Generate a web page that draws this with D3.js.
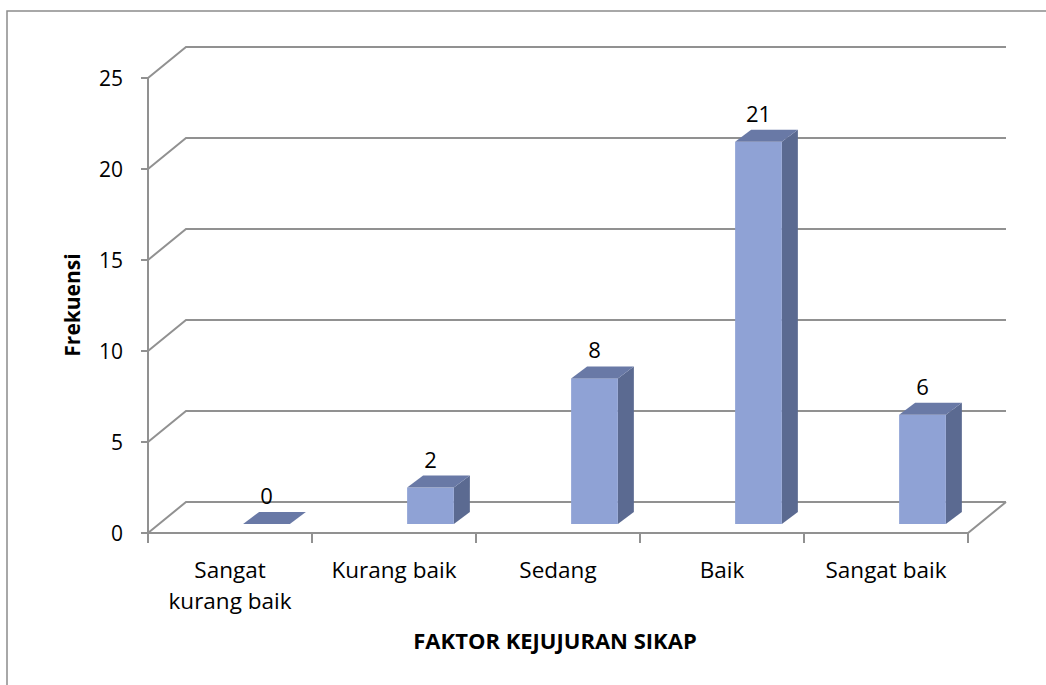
<!DOCTYPE html>
<html>
<head>
<meta charset="utf-8">
<script src="https://cdn.jsdelivr.net/npm/d3@7"></script>
<style>
  body { margin: 0; background: #fff; }
  text { font-family: "Open Sans", "Noto Sans", sans-serif; fill: #000; }
</style>
</head>
<body>
<script>
// data
var categories = ['Sangat kurang baik', 'Kurang baik', 'Sedang', 'Baik', 'Sangat baik'];
var labelLines = [['Sangat', 'kurang baik'], ['Kurang baik'], ['Sedang'], ['Baik'], ['Sangat baik']];
var values = [0, 2, 8, 21, 6];
var yTicks = [0, 5, 10, 15, 20, 25];

var width = 1046, height = 685;
var wallDx = 38, wallDy = -31;     // depth of the walls / floor
var barF = {dx: 11, dy: -9};       // bar front inside the depth
var barB = {dx: 27, dy: -21};      // bar back inside the depth

var svg = d3.select('body').append('svg')
    .attr('width', width)
    .attr('height', height);

// chart border
svg.append('rect')
    .attr('x', 7).attr('y', 11)
    .attr('width', 1100).attr('height', 700)
    .attr('fill', 'none')
    .attr('stroke', '#8c8c8c')
    .attr('stroke-width', 1.5);

var x = d3.scaleBand().domain(categories).range([148, 968]);
var y = d3.scaleLinear().domain([0, 25]).range([533, 78]);

var grid = svg.append('g')
    .attr('fill', 'none')
    .attr('stroke', '#919191')
    .attr('stroke-width', 2);

// gridlines with side wall part
grid.selectAll('.grid')
    .data(yTicks)
    .enter()
    .append('path')
    .attr('d', function(t) {
        var y0 = y(t);
        return 'M148,' + y0 + 'L' + (148 + wallDx) + ',' + (y0 + wallDy)
            + 'L' + (968 + wallDx) + ',' + (y0 + wallDy);
    });

// floor front and right edge
grid.append('path')
    .attr('d', 'M148,' + y(0) + 'L968,' + y(0) + 'L' + (968 + wallDx) + ',' + (y(0) + wallDy));

// front y axis
grid.append('line')
    .attr('x1', 148).attr('x2', 148)
    .attr('y1', y(25)).attr('y2', y(0));

// y ticks
grid.selectAll('.ytick')
    .data(yTicks)
    .enter()
    .append('line')
    .attr('x1', 141).attr('x2', 148)
    .attr('y1', function(t) { return y(t); })
    .attr('y2', function(t) { return y(t); });

// x ticks
var xBounds = categories.map(function(c) { return x(c); }).concat([968]);
grid.selectAll('.xtick')
    .data(xBounds)
    .enter()
    .append('line')
    .attr('x1', function(d) { return d; }).attr('x2', function(d) { return d; })
    .attr('y1', y(0)).attr('y2', y(0) + 10);

// y tick labels
svg.selectAll('.ylabel')
    .data(yTicks)
    .enter()
    .append('text')
    .attr('x', 123)
    .attr('y', function(t) { return y(t) + 8; })
    .attr('text-anchor', 'end')
    .style('font-size', '21px')
    .text(function(t) { return t; });

// bars
var bw = x.bandwidth() * 0.285;
var bars = svg.selectAll('.bar')
    .data(values)
    .enter()
    .append('g')
    .attr('class', 'bar');

function bx(i) { return x(categories[i]) + x.bandwidth() * 0.58; }
function by(v) { return y(v) + barF.dy; }
var ddx = barB.dx - barF.dx, ddy = barB.dy - barF.dy;

bars.append('path') // side
    .attr('fill', '#5b6a91')
    .attr('d', function(v, i) {
        var x1 = bx(i) + bw, yt = by(v), yb = by(0);
        return 'M' + x1 + ',' + yt + 'L' + (x1 + ddx) + ',' + (yt + ddy)
            + 'L' + (x1 + ddx) + ',' + (yb + ddy) + 'L' + x1 + ',' + yb + 'Z';
    });

bars.append('rect') // front
    .attr('fill', '#8fa2d5')
    .attr('x', function(v, i) { return bx(i); })
    .attr('y', function(v) { return by(v); })
    .attr('width', bw)
    .attr('height', function(v) { return by(0) - by(v); });

bars.append('path') // top
    .attr('fill', '#6979a6')
    .attr('d', function(v, i) {
        var x0 = bx(i), yt = by(v);
        return 'M' + x0 + ',' + yt + 'L' + (x0 + bw) + ',' + yt
            + 'L' + (x0 + bw + ddx) + ',' + (yt + ddy) + 'L' + (x0 + ddx) + ',' + (yt + ddy) + 'Z';
    });

// value labels
svg.selectAll('.vlabel')
    .data(values)
    .enter()
    .append('text')
    .attr('x', function(v, i) { return bx(i) + bw / 2; })
    .attr('y', function(v) { return by(v) - 20; })
    .attr('text-anchor', 'middle')
    .style('font-size', '22px')
    .text(function(v) { return v; });

// category labels
svg.selectAll('.xlabel')
    .data(labelLines)
    .enter()
    .append('text')
    .attr('text-anchor', 'middle')
    .style('font-size', '22.5px')
    .attr('x', function(d, i) { return x(categories[i]) + x.bandwidth() / 2; })
    .attr('y', 578)
    .selectAll('tspan')
    .data(function(d) { return d; })
    .enter()
    .append('tspan')
    .attr('x', function() { return d3.select(this.parentNode).attr('x'); })
    .attr('dy', function(d, j) { return j === 0 ? 0 : 31; })
    .text(function(d) { return d; });

// axis titles
svg.append('text')
    .attr('x', 555).attr('y', 649)
    .attr('text-anchor', 'middle')
    .style('font-size', '22px')
    .style('font-weight', 'bold')
    .text('FAKTOR KEJUJURAN SIKAP');

svg.append('text')
    .attr('transform', 'translate(80,305) rotate(-90)')
    .attr('text-anchor', 'middle')
    .style('font-size', '21px')
    .style('font-weight', 'bold')
    .text('Frekuensi');
</script>
</body>
</html>
